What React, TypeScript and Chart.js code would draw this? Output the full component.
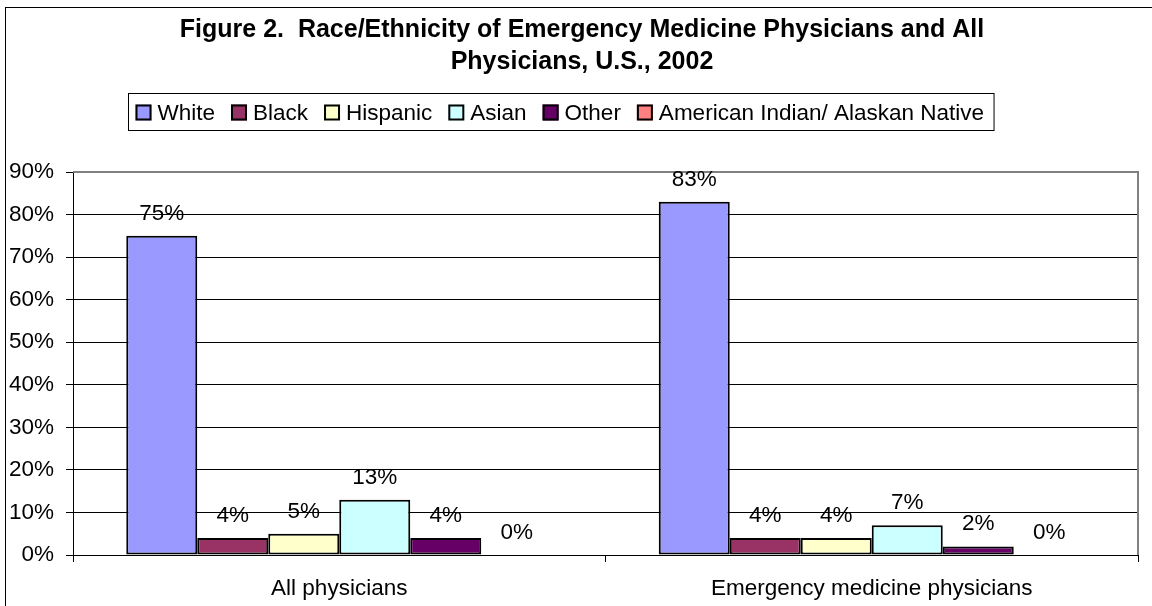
import React, { useEffect, useRef } from "react";
import { Chart, registerables } from "chart.js";

Chart.register(...registerables);

const categories = ["All physicians", "Emergency medicine physicians"];
const seriesNames = ["White", "Black", "Hispanic", "Asian", "Other", "American Indian/ Alaskan Native"];
const seriesColors = ["#9999FF", "#993366", "#FFFFCC", "#CCFFFF", "#660066", "#FF8080"];
const whiteValues = [75, 83];
const blackValues = [4, 4];
const hispanicValues = [5, 4];
const asianValues = [13, 7];
const otherValues = [4, 2];
const amIndianValues = [0, 0];
const yTickValues = [0, 10, 20, 30, 40, 50, 60, 70, 80, 90];
const titleLines = [
  "Figure 2.  Race/Ethnicity of Emergency Medicine Physicians and All",
  "Physicians, U.S., 2002",
];

const FONT = 'Arial, "Liberation Sans", sans-serif';
const TEXT_SIZE = 22.5;

export default function App() {
  const ref = useRef<HTMLCanvasElement>(null);

  useEffect(() => {
    const canvas = ref.current;
    if (!canvas) return;
    const seriesValues = [whiteValues, blackValues, hispanicValues, asianValues, otherValues, amIndianValues];

    const decorPlugin = {
      id: "decor",
      afterDatasetsDraw(chart: any) {
        const ctx = chart.ctx as CanvasRenderingContext2D;
        const area = chart.chartArea;
        ctx.save();
        // plot area border (grey top & right)
        ctx.strokeStyle = "#808080";
        ctx.lineWidth = 2;
        ctx.beginPath();
        ctx.moveTo(area.left, area.top);
        ctx.lineTo(area.right, area.top);
        ctx.lineTo(area.right, area.bottom);
        ctx.stroke();
        // value labels
        ctx.font = `${TEXT_SIZE}px ${FONT}`;
        ctx.fillStyle = "#000";
        ctx.textAlign = "center";
        ctx.textBaseline = "alphabetic";
        chart.data.datasets.forEach((ds: any, i: number) => {
          const meta = chart.getDatasetMeta(i);
          meta.data.forEach((el: any, j: number) => {
            ctx.fillText(`${ds.data[j]}%`, el.x, el.y - 16);
          });
        });
        ctx.restore();
      },
      afterDraw(chart: any) {
        const ctx = chart.ctx as CanvasRenderingContext2D;
        ctx.save();
        // outer chart border
        ctx.strokeStyle = "#000";
        ctx.lineWidth = 1;
        ctx.strokeRect(5.5, 7.5, chart.width + 20, chart.height + 20);
        // title
        ctx.fillStyle = "#000";
        ctx.font = `bold 25px ${FONT}`;
        ctx.textAlign = "center";
        ctx.textBaseline = "alphabetic";
        const titleX = 582;
        ctx.fillText(titleLines[0], titleX, 36.5);
        ctx.fillText(titleLines[1], titleX, 68.5);
        // legend
        ctx.font = `${TEXT_SIZE}px ${FONT}`;
        ctx.textAlign = "left";
        const sw = 16;
        const swGap = 6;
        const itemGap = 16;
        const padL = 7;
        const padR = 10;
        const names = chart.data.datasets.map((d: any) => d.label as string);
        const widths = names.map((n: string) => ctx.measureText(n).width);
        let total = padL + padR;
        widths.forEach((w: number, i: number) => {
          total += sw + swGap + w + (i > 0 ? itemGap : 0);
        });
        const boxCx = 561;
        const boxLeft = Math.round(boxCx - total / 2) + 0.5;
        const boxTop = 93.5;
        const boxH = 37;
        ctx.strokeStyle = "#000";
        ctx.lineWidth = 1;
        ctx.strokeRect(boxLeft, boxTop, total, boxH);
        let x = boxLeft + padL;
        names.forEach((n: string, i: number) => {
          const ds = chart.data.datasets[i];
          ctx.fillStyle = ds.backgroundColor;
          ctx.fillRect(x, 104.5, sw, sw);
          ctx.strokeStyle = "#000";
          ctx.lineWidth = 2;
          ctx.strokeRect(x + 1, 105.5, sw - 2, sw - 2);
          ctx.fillStyle = "#000";
          ctx.fillText(n, x + sw + swGap, 120);
          x += sw + swGap + widths[i] + itemGap;
        });
        ctx.restore();
      },
    };

    const chart = new Chart(canvas, {
      type: "bar",
      data: {
        labels: categories,
        datasets: seriesNames.map((name, i) => ({
          label: name,
          data: seriesValues[i],
          backgroundColor: seriesColors[i],
          borderColor: "#000",
          borderWidth: 2,
          borderSkipped: false,
          categoryPercentage: 0.8,
          barPercentage: 1.0,
        })),
      },
      options: {
        responsive: false,
        devicePixelRatio: 1,
        animation: false,
        layout: { padding: { top: 172, left: 0, right: 14, bottom: 0 } },
        plugins: {
          legend: { display: false },
          title: { display: false },
          tooltip: { enabled: false },
        },
        scales: {
          x: {
            type: "category",
            offset: true,
            grid: {
              offset: true,
              drawOnChartArea: false,
              drawTicks: true,
              tickLength: 7,
              tickColor: "#000",
            },
            border: { display: true, color: "#000", width: 1 },
            ticks: {
              color: "#000",
              padding: 13,
              font: { family: FONT, size: TEXT_SIZE },
              maxRotation: 0,
              autoSkip: false,
            },
            afterFit(scale: any) {
              scale.height = 51;
            },
          },
          y: {
            type: "linear",
            min: 0,
            max: 90,
            afterBuildTicks(scale: any) {
              scale.ticks = yTickValues.map((v) => ({ value: v }));
            },
            grid: {
              color: (c: any) => (c.tick && c.tick.value === 90 ? "rgba(0,0,0,0)" : "#000"),
              tickColor: "#000",
              lineWidth: 1,
              tickLength: 7,
              drawTicks: true,
            },
            border: { display: true, color: "#000", width: 1 },
            ticks: {
              color: "#000",
              padding: 12,
              font: { family: FONT, size: TEXT_SIZE },
              callback: (v: any) => `${v}%`,
            },
            afterFit(scale: any) {
              scale.width = 73;
            },
          },
        },
      },
      plugins: [decorPlugin],
    } as any);

    return () => chart.destroy();
  }, []);

  return (
    <div style={{ position: "fixed", left: 0, top: 0, width: 1152, height: 606, background: "#fff" }}>
      <canvas ref={ref} width={1152} height={606} style={{ display: "block" }} />
    </div>
  );
}
